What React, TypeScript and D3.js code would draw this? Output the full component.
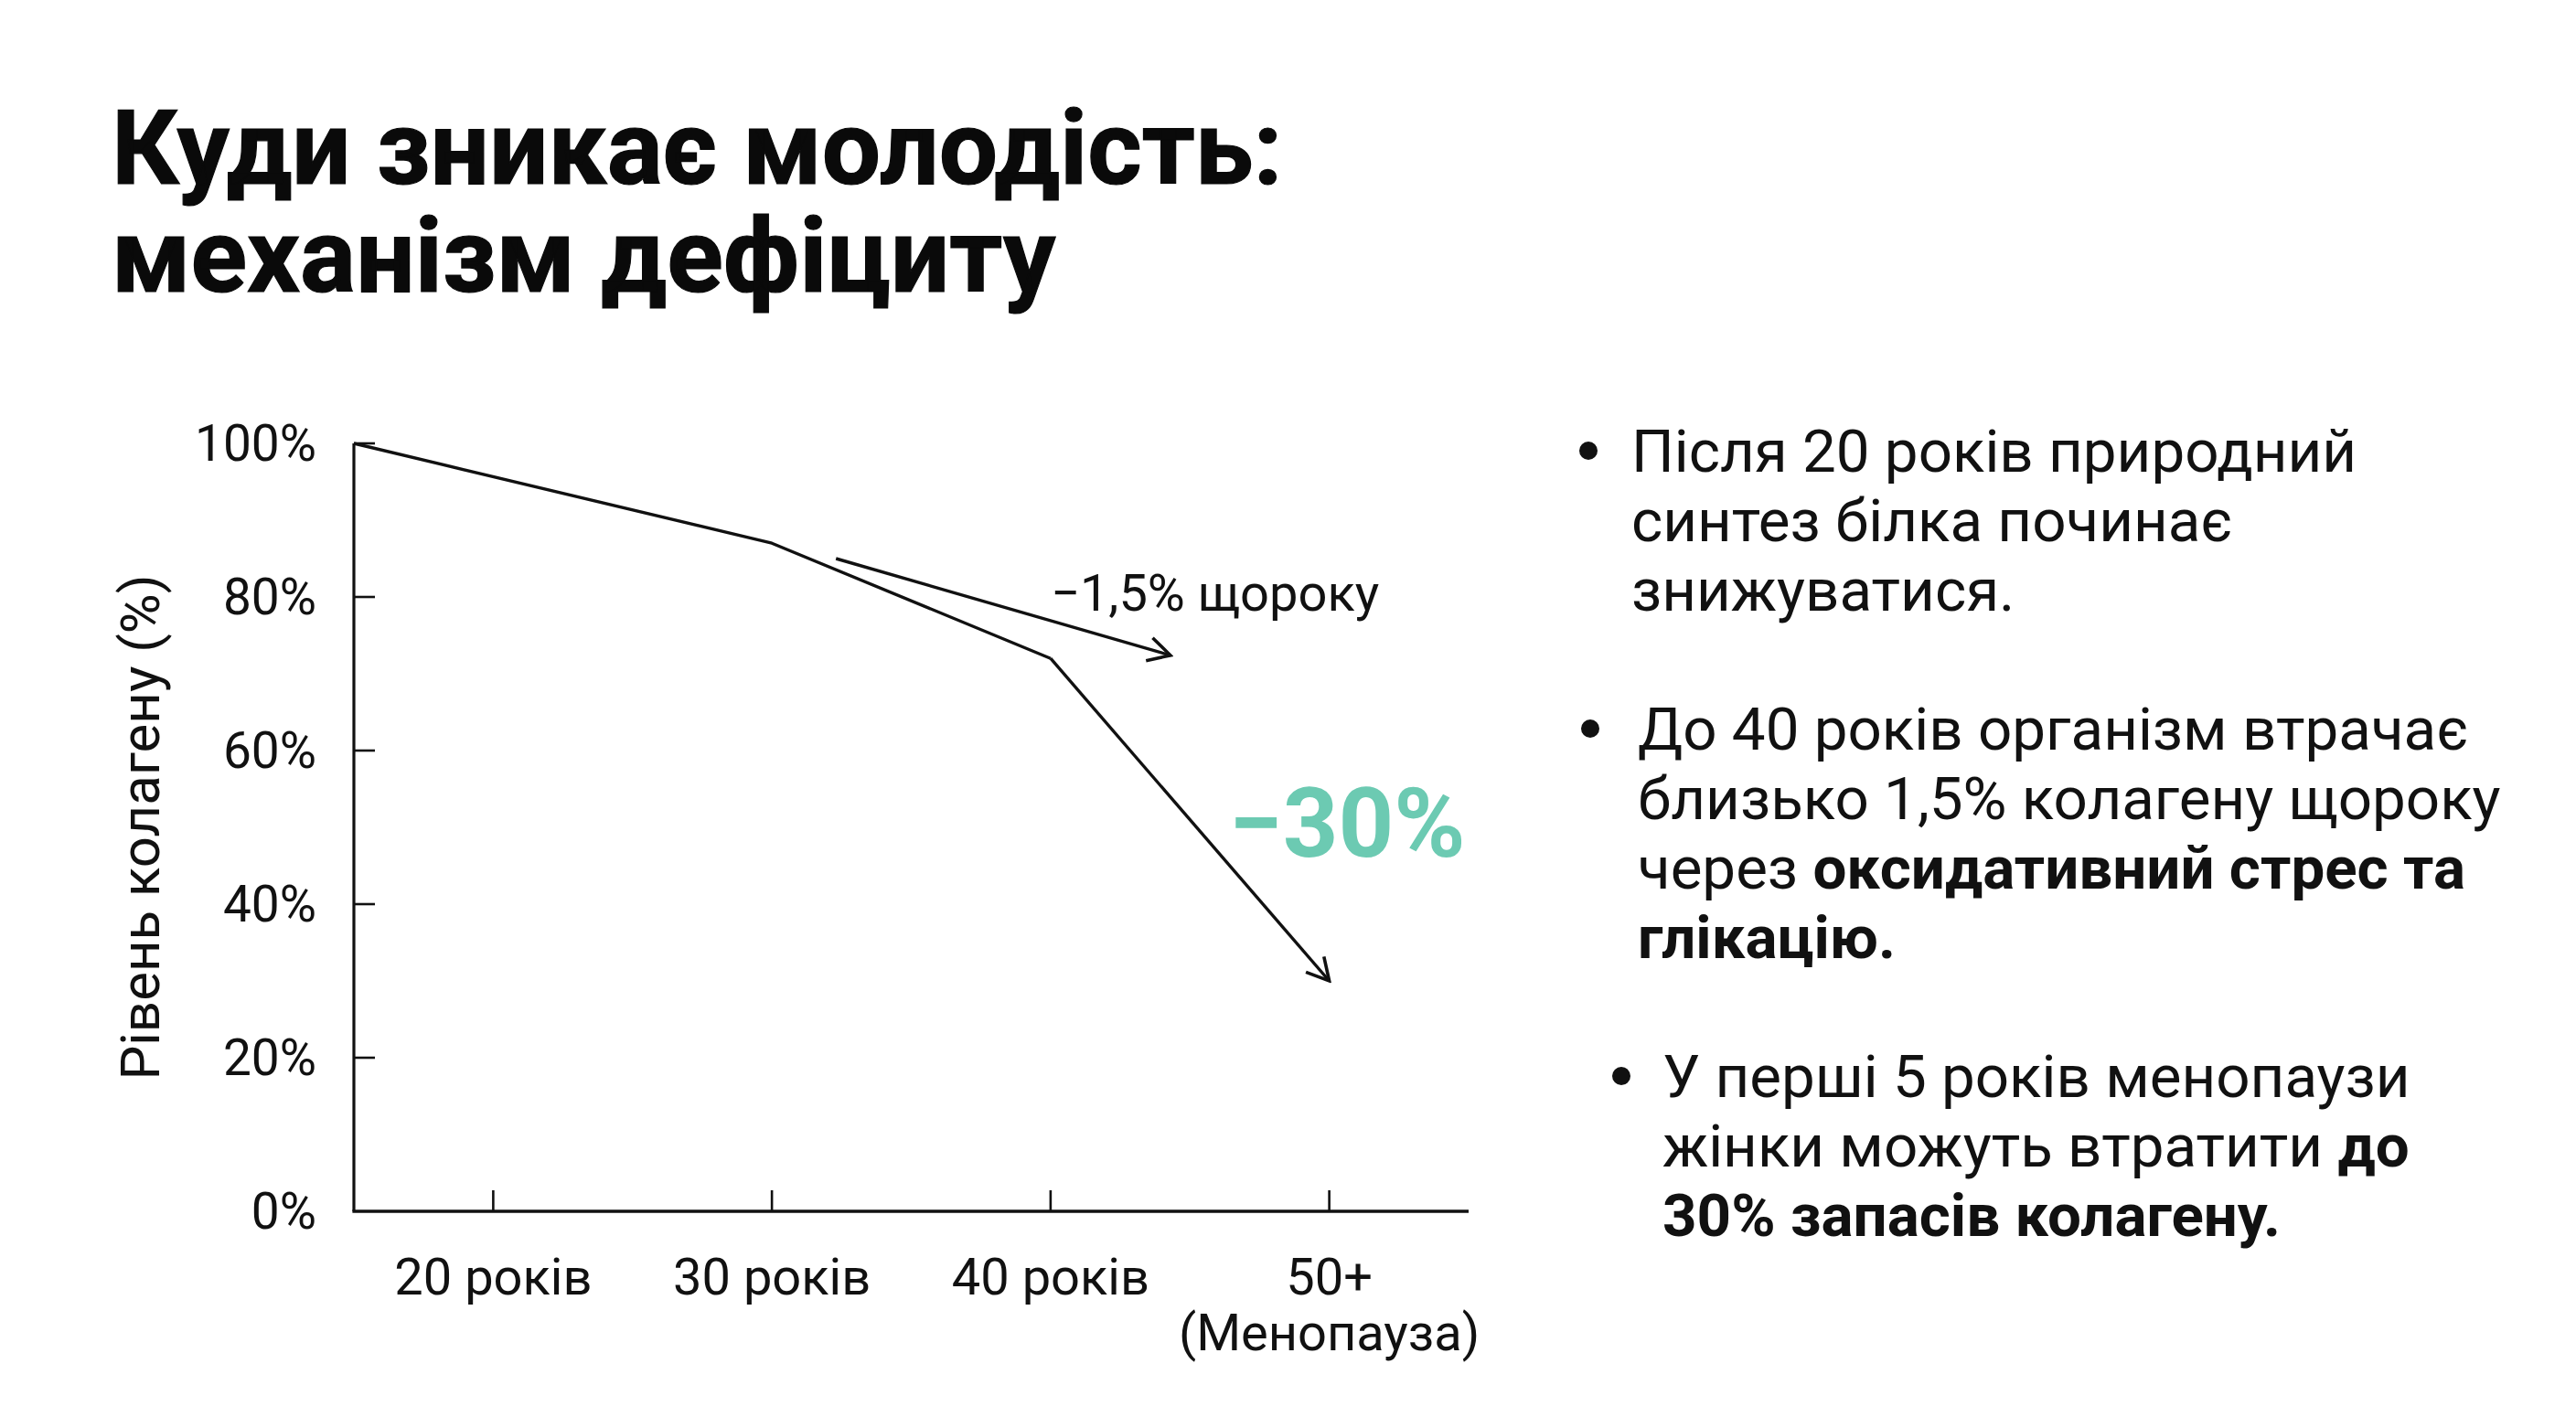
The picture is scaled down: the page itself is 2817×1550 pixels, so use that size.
import * as d3 from "d3";

const W = 2817;
const H = 1550;

// chart data
const Y_TICKS = [0, 20, 40, 60, 80, 100];
const AGE_TICKS = [20, 30, 40, 50];
const AGE_LABELS = [["20 років"], ["30 років"], ["40 років"], ["50+", "(Менопауза)"]];
const LINE_AGES = [15, 30, 40];
const LINE_LEVELS = [100, 87, 72];
const DROP_AGES = [40, 50];
const DROP_LEVELS = [72, 30];
const TREND_AGES = [32.3, 44.3];
const TREND_LEVELS = [85, 72.4];

const TITLE = ["Куди зникає молодість:", "механізм дефіциту"];

// bullet text: [normal, bold] per line
const BULLETS = [
  [["Після 20 років природний", ""], ["синтез білка починає", ""], ["знижуватися.", ""]],
  [["До 40 років організм втрачає", ""], ["близько 1,5% колагену щороку", ""], ["через ", "оксидативний стрес та"], ["", "глікацію."]],
  [["У перші 5 років менопаузи", ""], ["жінки можуть втратити ", "до"], ["", "30% запасів колагену."]],
];

const INK = "#111111";
const TEAL = "#6ccab2";
const FONT = "Roboto, 'Noto Sans', sans-serif";

const x = d3.scaleLinear().domain([15, 55]).range([387, 1606]);
const y = d3.scaleLinear().domain([0, 100]).range([1325, 485]);

const line = d3.line<number>()
  .x((d, i) => x(LINE_AGES[i]))
  .y(d => y(d));

export default function App() {
  const bulletTop = [516, 820, 1200];
  const bulletX = [1784, 1791, 1818];
  const dotX = [1737, 1739, 1773];
  const lineGap = 76;

  return (
    <svg width={W} height={H} style={{ position: "absolute", left: 0, top: 0, display: "block", background: "#fff" }}
      fontFamily={FONT}>
      <defs>
        <marker id="arrow" viewBox="0 0 32 32" markerWidth={32} markerHeight={32} refX={29} refY={16}
          orient="auto" markerUnits="userSpaceOnUse">
          <path d="M5,3 L29,16 L5,29" fill="none" stroke={INK} strokeWidth={3.6} strokeLinejoin="miter" />
        </marker>
      </defs>

      {TITLE.map((t, i) => (
        <text key={t} x={122} y={201 + i * 118} fontSize={114} fontWeight={700} fill="#0a0a0a"
          stroke="#0a0a0a" strokeWidth={1.2}>{t}</text>
      ))}

      {/* axes */}
      <line x1={x(15)} x2={x(15)} y1={y(100)} y2={y(0)} stroke={INK} strokeWidth={3.2} />
      <line x1={x(15) - 1.6} x2={x(55)} y1={y(0)} y2={y(0)} stroke={INK} strokeWidth={3.6} />
      {Y_TICKS.filter(v => v > 0).map(v => (
        <line key={v} x1={x(15)} x2={x(15) + 23} y1={y(v)} y2={y(v)} stroke={INK} strokeWidth={2.6} />
      ))}
      {Y_TICKS.map(v => (
        <text key={v} x={346} y={y(v) + 19} textAnchor="end" fontSize={55} fill={INK}>{v}%</text>
      ))}
      {AGE_TICKS.map((a, i) => (
        <g key={a}>
          <line x1={x(a)} x2={x(a)} y1={y(0)} y2={y(0) - 23} stroke={INK} strokeWidth={2.6} />
          {AGE_LABELS[i].map((l, j) => (
            <text key={l} x={x(a)} y={1416 + j * 61} textAnchor="middle" fontSize={56} fill={INK}>{l}</text>
          ))}
        </g>
      ))}
      <text transform={`translate(174, ${(y(0) + y(100)) / 2}) rotate(-90)`} textAnchor="middle"
        fontSize={60} fill={INK}>Рівень колагену (%)</text>

      {/* series */}
      <path d={line(LINE_LEVELS) || ""} fill="none" stroke={INK} strokeWidth={3.4} strokeLinejoin="round" />
      <line x1={x(DROP_AGES[0])} y1={y(DROP_LEVELS[0])} x2={x(DROP_AGES[1])} y2={y(DROP_LEVELS[1])}
        stroke={INK} strokeWidth={3.4} markerEnd="url(#arrow)" />
      <line x1={x(TREND_AGES[0])} y1={y(TREND_LEVELS[0])} x2={x(TREND_AGES[1])} y2={y(TREND_LEVELS[1])}
        stroke={INK} strokeWidth={3.4} markerEnd="url(#arrow)" />

      <text x={x(40)} y={y(78.2)} fontSize={56} fill={INK}>−1,5% щороку</text>
      <text x={x(46.4)} y={y(46.2)} fontSize={106} fontWeight={700} fill={TEAL}>−30%</text>

      {/* bullets */}
      {BULLETS.map((b, i) => (
        <g key={i}>
          <circle cx={dotX[i]} cy={bulletTop[i] - 23} r={10} fill={INK} />
          {b.map(([n, bold], j) => (
            <text key={j} x={bulletX[i]} y={bulletTop[i] + j * lineGap} fontSize={65.5} fill={INK}>
              {n}{bold && <tspan fontWeight={700}>{bold}</tspan>}
            </text>
          ))}
        </g>
      ))}
    </svg>
  );
}
